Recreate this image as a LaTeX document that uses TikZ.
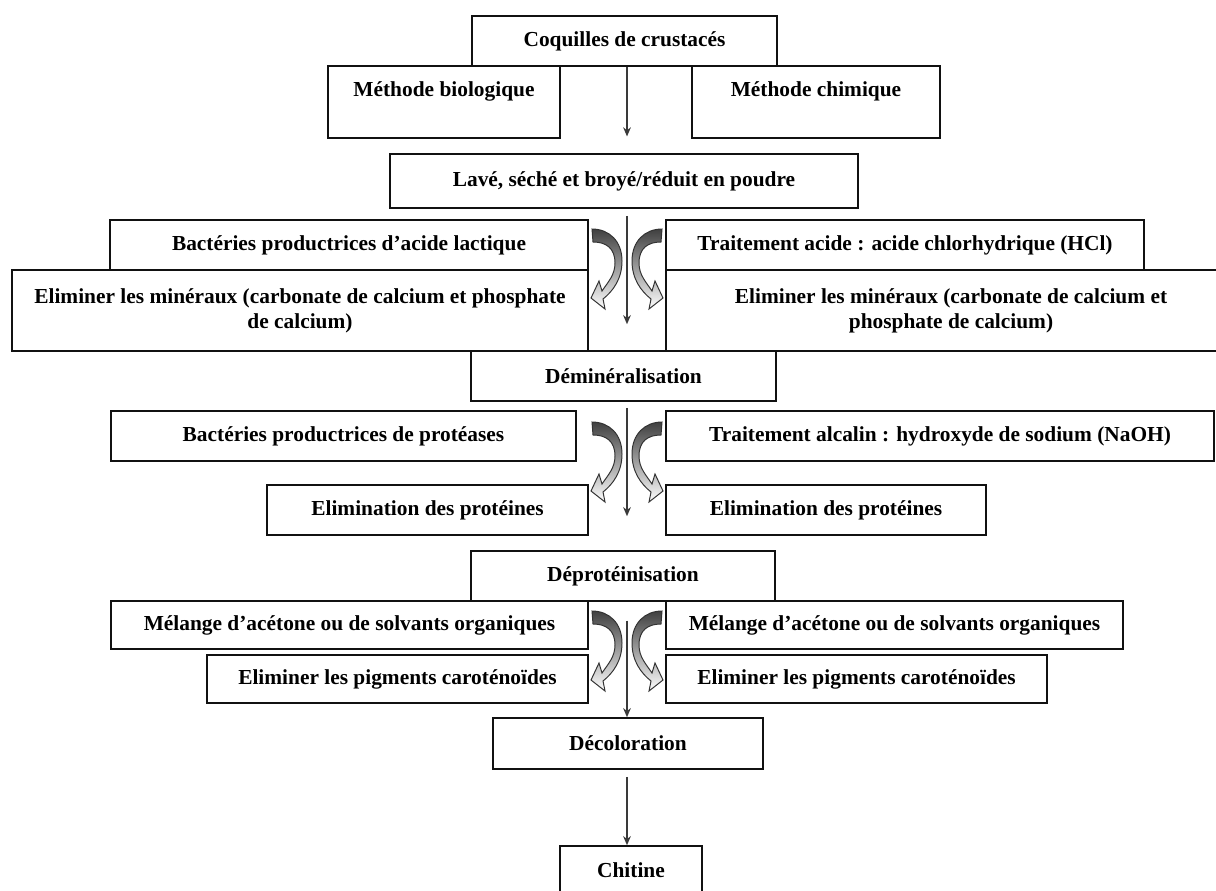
\documentclass[tikz,border=0pt]{standalone}
\usepackage{fontspec}
\setmainfont{Liberation Serif}
\usetikzlibrary{arrows.meta}
\definecolor{boxline}{HTML}{111111}
\definecolor{arrowgray}{HTML}{3A3A3A}

\tikzset{
    box/.style={draw=boxline, line width=1.1pt, align=center, inner sep=2pt},
    wh/.style 2 args={minimum width=#1*0.025cm, minimum height=#2*0.025cm},
    flow/.style={->, draw=arrowgray, line width=1pt},
    bentarrow/.style={draw=black!80, line width=0.7pt, top color=black!75, middle color=black!40, bottom color=white}
}

\begin{document}
\begin{tikzpicture}[x=0.025cm, y=-0.025cm, >={Stealth[length=6.5pt,width=5.5pt]},
    font=\bfseries\fontsize{15.2}{18}\selectfont]

    \useasboundingbox (0,0) rectangle (1216,890);

    % Source and the two methods
    \node[box, wh={305}{50}] (coq) at (624.5,41) {Coquilles de crustacés};
    \node[box, wh={232}{72}] (bio) at (444,102) {Méthode biologique\\\mbox{}};
    \node[box, wh={248}{72}] (chim) at (816,102) {Méthode chimique\\\mbox{}};
    \node[box, wh={468}{54}] (lave) at (624,181) {Lavé, séché et broyé/réduit en poudre};

    % Demineralisation
    \node[box, wh={478}{50}] (bactl) at (349,245) {Bactéries productrices d’acide lactique};
    \node[box, wh={576}{81}] (elimL) at (300,310.5) {Eliminer les minéraux (carbonate de calcium et phosphate\\de calcium)};
    \node[box, wh={478}{50}] (acide) at (905,245) {Traitement acide : acide chlorhydrique (HCl)};
    \node[box, wh={570}{81}] (elimR) at (951,310.5) {Eliminer les minéraux (carbonate de calcium et\\phosphate de calcium)};
    \node[box, wh={305}{50}] (demin) at (623.5,376) {Déminéralisation};

    % Deproteinisation
    \node[box, wh={465}{50}] (bactp) at (343.5,436) {Bactéries productrices de protéases};
    \node[box, wh={548}{50}] (alcal) at (940,436) {Traitement alcalin : hydroxyde de sodium (NaOH)};
    \node[box, wh={321}{50}] (protL) at (427.5,510) {Elimination des protéines};
    \node[box, wh={320}{50}] (protR) at (826,510) {Elimination des protéines};
    \node[box, wh={304}{50}] (deprot) at (623,576) {Déprotéinisation};

    % Decoloration
    \node[box, wh={477}{48}] (melL) at (349.5,625) {Mélange d’acétone ou de solvants organiques};
    \node[box, wh={457}{48}] (melR) at (894.5,625) {Mélange d’acétone ou de solvants organiques};
    \node[box, wh={381}{48}] (pigL) at (397.5,679) {Eliminer les pigments caroténoïdes};
    \node[box, wh={381}{48}] (pigR) at (856.5,679) {Eliminer les pigments caroténoïdes};
    \node[box, wh={270}{51}] (decol) at (628,743.5) {Décoloration};
    \node[box, wh={142}{48}] (chit) at (631,870) {Chitine};

    % Bent arrows on both sides of the main flow
    \foreach \yy in {190,383,572} {
        \foreach \s in {1,-1} {
            \begin{scope}[shift={(627,\yy)}, xscale=\s]
                \draw[bentarrow] (-35,39) .. controls (-18,39) and (-5,51) .. (-5,71)
                    .. controls (-5,89) and (-14,101) .. (-24,109)
                    -- (-22,119) -- (-36,108) -- (-28,91) -- (-25,101)
                    .. controls (-19,92) and (-12,85) .. (-12,73)
                    .. controls (-12,58) and (-21,52) .. (-34,52) -- cycle;
            \end{scope}
        }
    }

    % Main flow
    \coordinate (spine) at (627,0);
    \draw[flow, shorten >=0.42cm] (coq.south -| spine) -- (lave.north -| spine);
    \draw[flow, shorten <=0.18cm, shorten >=0.65cm] (lave.south -| spine) -- (demin.north -| spine);
    \draw[flow, shorten <=0.15cm, shorten >=0.85cm] (demin.south -| spine) -- (deprot.north -| spine);
    \draw[flow, shorten <=0.47cm] (deprot.south -| spine) -- (decol.north -| spine);
    \draw[flow, shorten <=0.18cm] (decol.south -| spine) -- (chit.north -| spine);

\end{tikzpicture}
\end{document}
